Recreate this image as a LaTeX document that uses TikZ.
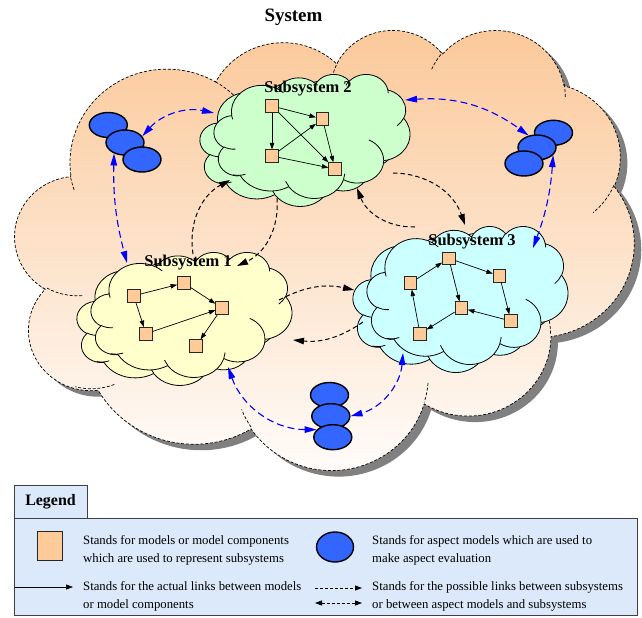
\documentclass[tikz,border=0pt]{standalone}
\usepackage{fontspec}
\setmainfont{Liberation Serif}
\usetikzlibrary{arrows.meta,shapes.geometric}
\definecolor{peach}{RGB}{251,200,153}
\definecolor{peachlow}{RGB}{255,253,252}
\definecolor{sqfill}{RGB}{255,204,153}
\definecolor{ellblue}{RGB}{51,102,255}
\definecolor{greencl}{RGB}{204,255,204}
\definecolor{yellowcl}{RGB}{255,255,204}
\definecolor{cyancl}{RGB}{204,255,255}
\definecolor{legbg}{RGB}{219,233,250}
\definecolor{shadowgray}{RGB}{128,128,128}
% visual angle -> parametric angle of an ellipse
\newcommand\vang[3]{(#3)+(atan2((#1)*sin(#3),(#2)*cos(#3))-(#3))-360*round((atan2((#1)*sin(#3),(#2)*cos(#3))-(#3))/360)}
\newcommand\pparc[4]{arc[x radius=#1,y radius=#2,start angle={\vang{#1}{#2}{#3}},end angle={\vang{#1}{#2}{#3+#4}}]}
\def\pptoutline{(39.00,143.70)
 \pparc{67.53}{91.90}{-190.4875}{123.7805}
 \pparc{53.33}{72.67}{-144.1024}{89.9452}
 \pparc{43.65}{59.45}{-145.8079}{99.7230}
 \pparc{48.57}{65.95}{-130.9861}{117.2417}
 \pparc{53.33}{72.73}{-78.7089}{109.0269}
 \pparc{67.75}{92.20}{-46.2673}{130.2690}
 \pparc{57.85}{78.67}{0.6250}{114.0333}
 \pparc{67.52}{92.15}{22.4516}{115.1726}
 \pparc{77.20}{105.43}{66.2426}{75.7110}
 \pparc{43.60}{59.18}{-274.9421}{146.7356}
 \pparc{43.45}{59.45}{-246.8285}{152.5189}
 -- cycle}
\def\pptinner{(46.93,261.77) \pparc{43.45}{59.45}{86.7420}{26.4295}
 (69.28,348.99) \pparc{43.60}{59.18}{73.6106}{27.3471}
 (164.78,390.90) \pparc{67.52}{92.15}{137.6242}{14.0811}
 (288.27,347.51) \pparc{67.52}{92.15}{6.4533}{15.9984}
 (341.29,229.54) \pparc{57.85}{78.67}{-70.2924}{70.9174}
 (417.98,153.54) \pparc{53.33}{72.73}{30.3180}{27.7515}
 (383.24,54.26) \pparc{48.57}{65.95}{-13.7443}{14.8589}
 (290.78,39.52) \pparc{48.57}{65.95}{-149.1815}{18.1954}
 (221.41,47.20) \pparc{43.65}{59.45}{-163.4943}{18.2868}
 (140.00,51.92) \pparc{67.53}{91.90}{-66.7070}{12.3194}
 (41.27,157.89) \pparc{67.53}{91.90}{154.6702}{11.1672}}
\newcommand\pptcloud[5]{%
  \pgfmathsetmacro\cwx{(#3)/432}%
  \pgfmathsetmacro\chy{(#4)/432}%
  \begin{scope}[shift={(#1,#2)},x=\cwx bp,y=-\chy bp]
    \path[#5] \pptoutline;
  \end{scope}}
\newcommand\pptinnerarcs[5]{%
  \pgfmathsetmacro\cwx{(#3)/432}%
  \pgfmathsetmacro\chy{(#4)/432}%
  \begin{scope}[shift={(#1,#2)},x=\cwx bp,y=-\chy bp]
    \path[#5] \pptinner;
  \end{scope}}
% a subsystem cloud: two overlapping cloud shapes
\newcommand\subcloud[5]{%
  \pptcloud{#1}{#2+7}{#3-14}{#4-7}{subline,fill=#5}%
  \pptinnerarcs{#1}{#2+7}{#3-14}{#4-7}{subline}%
  \pptcloud{#1+14}{#2}{#3-14}{#4-8}{subline,fill=#5}%
  \pptinnerarcs{#1+14}{#2}{#3-14}{#4-8}{subline}}
\tikzset{
  bigline/.style={draw=black,dash pattern=on 3bp off 1.8bp,line width=0.7bp},
  subline/.style={draw=black,line width=0.8bp},
  possible/.style={draw=black,dash pattern=on 4.5bp off 3bp,line width=1bp,-{Triangle[length=11bp,width=6.5bp]}},
  aspectlink/.style={draw=blue,dash pattern=on 7bp off 4bp,line width=1.1bp,{Triangle[length=12bp,width=6.5bp]}-{Triangle[length=12bp,width=6.5bp]}},
  actual/.style={draw=black,line width=0.7bp,-{Triangle[length=6.5bp,width=4.5bp]}},
  model/.style={draw=black!85,fill=sqfill,minimum size=12.5bp,inner sep=0pt,line width=0.7bp},
  aspectm/.style={ellipse,draw=black,line width=1.4bp,fill=ellblue,minimum width=38bp,minimum height=25bp,inner sep=0pt},
  sublabel/.style={font=\fontsize{16.5}{18}\selectfont\bfseries,inner sep=0pt},
  legframe/.style={fill=legbg,draw=black!75,line width=0.8bp},
  legtxt/.style={anchor=west,align=left,inner sep=0pt,font=\fontsize{12.8}{18}\selectfont},
}
\begin{document}
\begin{tikzpicture}[x=1bp,y=-1bp]
\useasboundingbox (0,0) rectangle (642,618);
% ---------- System cloud ----------
\pptcloud{22}{35}{619}{440}{fill=shadowgray}
\pptcloud{15}{29}{619}{440}{bigline,top color=peach,bottom color=peachlow}
\pptinnerarcs{15}{29}{619}{440}{bigline}
\node[font=\fontsize{19}{22}\selectfont\bfseries,inner sep=0pt] (systitle) at (293.5,17) {System};
% ---------- Subsystem clouds ----------
\subcloud{200}{74}{210}{132}{greencl}
\subcloud{77}{252}{215}{133}{yellowcl}
\subcloud{353}{226}{215}{146}{cyancl}
\node[sublabel] (lab2) at (308,89) {Subsystem 2};
\node[sublabel] (lab1) at (188,263) {Subsystem 1};
\node[sublabel] (lab3) at (472,242) {Subsystem 3};
% ---------- aspect models ----------
\node[aspectm] (e1) at (108.3,125) {};
\node[aspectm] (e2) at (125,142.5) {};
\node[aspectm] (e3) at (142,159.5) {};
\node[aspectm] (f1) at (553.5,132.8) {};
\node[aspectm] (f2) at (537,147.5) {};
\node[aspectm] (f3) at (524,163.5) {};
\node[aspectm] (g1) at (329.5,395) {};
\node[aspectm] (g2) at (330.8,416.2) {};
\node[aspectm] (g3) at (332.8,437.2) {};
% ---------- anchor points on clouds ----------
\coordinate (s2w) at (214,113);
\coordinate (s2e) at (405,100);
\coordinate (s1nw) at (127,263);
\coordinate (s3ne) at (533,248);
\coordinate (s1s) at (228,367);
\coordinate (s3sw) at (403,353);
\coordinate (s2b) at (277,198);
\coordinate (s1ne) at (237,266);
\coordinate (s1n) at (193,254);
\coordinate (s2sw) at (230,180);
\coordinate (s1e) at (279,300);
\coordinate (s3w) at (354,290);
\coordinate (s3wl) at (363,322);
\coordinate (s1el) at (293,340);
\coordinate (s2se) at (393,173);
\coordinate (s3n) at (465,225);
\coordinate (s3nw) at (415,227);
\coordinate (s2s) at (357,188);
% ---------- aspect links ----------
\draw[aspectlink] (e2.20) to[bend left=30] (s2w);
\draw[aspectlink] (e2.225) to[bend right=8] (s1nw);
\draw[aspectlink] (s2e) to[bend left=20] (f2.125);
\draw[aspectlink] (f2.-25) to[bend left=8] (s3ne);
\draw[aspectlink] (s1s) to[bend right=35] (g3.155);
\draw[aspectlink] (s3sw) to[bend left=35] (g2.east);
% ---------- possible links ----------
\draw[possible] (s2b) to[bend left=35] (s1ne);
\draw[possible] (s1n) to[bend left=35] (s2sw);
\draw[possible] (s1e) to[bend left=20] (s3w);
\draw[possible] (s3wl) to[bend left=20] (s1el);
\draw[possible] (s2se) to[bend left=35] (s3n);
\draw[possible] (s3nw) to[bend left=35] (s2s);
% ---------- models in subsystem 2 ----------
\node[model] (m2a) at (272,106) {};
\node[model] (m2b) at (322.5,119) {};
\node[model] (m2c) at (272,156) {};
\node[model] (m2d) at (335,169) {};
\draw[actual] (m2a) -- (m2b);
\draw[actual] (m2a) -- (m2c);
\draw[actual] (m2a) -- (m2d);
\draw[actual] (m2c) -- (m2b);
\draw[actual] (m2c) -- (m2d);
\draw[actual] (m2b) -- (m2d);
% ---------- models in subsystem 1 ----------
\node[model] (m1a) at (133.7,295.8) {};
\node[model] (m1b) at (183.7,283) {};
\node[model] (m1c) at (222,308) {};
\node[model] (m1d) at (146,333.7) {};
\node[model] (m1e) at (196,346) {};
\draw[actual] (m1a) -- (m1b);
\draw[actual] (m1b) -- (m1c);
\draw[actual] (m1a) -- (m1d);
\draw[actual] (m1d) -- (m1c);
\draw[actual] (m1c) -- (m1e);
% ---------- models in subsystem 3 ----------
\node[model] (m3p) at (448.7,258.3) {};
\node[model] (m3q) at (499.5,276) {};
\node[model] (m3r) at (410.5,283) {};
\node[model] (m3s) at (461.2,308) {};
\node[model] (m3t) at (511,321) {};
\node[model] (m3u) at (420,333.7) {};
\draw[actual] (m3r) -- (m3p);
\draw[actual] (m3p) -- (m3q);
\draw[actual] (m3p) -- (m3s);
\draw[actual] (m3q) -- (m3t);
\draw[actual] (m3t) -- (m3s);
\draw[actual] (m3s) -- (m3u);
\draw[actual] (m3u) -- (m3r);
% ---------- legend ----------
\draw[legframe] (14,485) rectangle (87,518);
\draw[legframe] (14,518) rectangle (637,615);
\node[font=\fontsize{16}{18}\selectfont\bfseries,inner sep=0pt] (legtitle) at (50.5,502) {Legend};
\node[model,minimum width=25bp,minimum height=29bp] (legsq) at (50.2,546.2) {};
\node[legtxt] (legt1) at (83,550.5) {Stands for models or model components\\which are used to represent subsystems};
\node[aspectm,minimum width=37bp,minimum height=30bp] (legcirc) at (335,547) {};
\node[legtxt] (legt2) at (372,550.5) {Stands for aspect models which are used to\\make aspect evaluation};
\coordinate (la1) at (15,587);
\coordinate (la2) at (73,587);
\draw[actual,-{Triangle[length=7bp,width=5bp]}] (la1) -- (la2);
\node[legtxt] (legt3) at (83,596.5) {Stands for the actual links between models\\or model components};
\coordinate (lp1) at (315,588);
\coordinate (lp2) at (362,588);
\coordinate (lq1) at (315,603);
\coordinate (lq2) at (362,603);
\draw[draw=black,dash pattern=on 3bp off 2bp,line width=0.8bp,-{Triangle[length=7bp,width=5bp]}] (lp1) -- (lp2);
\draw[draw=black,dash pattern=on 3bp off 2bp,line width=0.8bp,{Triangle[length=7bp,width=5bp]}-{Triangle[length=7bp,width=5bp]}] (lq1) -- (lq2);
\node[legtxt] (legt4) at (372,596.5) {Stands for the possible links between subsystems\\or between aspect models and subsystems};
\end{tikzpicture}
\end{document}
